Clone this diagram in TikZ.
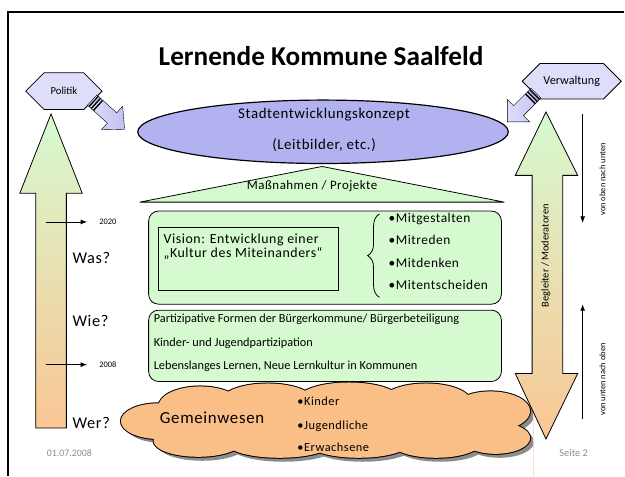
\documentclass[tikz,border=0pt]{standalone}
\usepackage{fontspec}
\setmainfont{Carlito}
\newfontfamily\weit{Carlito}[LetterSpace=4]
\usetikzlibrary{arrows.meta,positioning,shapes.geometric,shapes.symbols,decorations.pathreplacing}
\definecolor{gruen}{RGB}{214,250,208}
\definecolor{lila}{RGB}{178,178,240}
\definecolor{hlila}{RGB}{222,222,250}
\definecolor{wolke}{RGB}{250,190,135}
\definecolor{pfirsich}{RGB}{250,198,148}
\tikzset{every picture/.style={
  >=Latex                       % Filled arrow tips.
  }
}
% Puffs of the cloud: centre x/centre y/x radius/y radius.
\newcommand\wolkenpuffs{160/425/38/18, 202/410/42/20, 200/445/45/16,
  270/404/46/17, 282/448/52/14, 352/402/50/16, 362/448/50/14,
  430/405/45/18, 440/447/45/15, 495/415/40/20, 500/442/35/16,
  328/425/180/22}

\begin{document}
\begin{tikzpicture}[x=1pt,y=-1pt,
    hexa/.style={               % Hexagons for the actors.
      signal,
      signal to=west and east,
      signal pointer angle=90,
      draw,
      thick,
      fill=hlila,
      minimum height=37pt,
      inner sep=0pt
    },
    box/.style={                % Rounded green panels.
      draw,
      thick,
      rounded corners=10pt,
      fill=gruen
    },
    txt/.style={                % Body text.
      font=\weit\fontsize{13}{15}\selectfont,
      inner sep=0pt,
      text height=0.7em,
      text depth=0.2em
    },
    klein/.style={              % Small labels.
      font=\fontsize{8.5}{10}\selectfont,
      inner sep=0pt
    },
    pfeil/.style={              % Big shaded arrows.
      draw,
      thick,
      top color=gruen,
      bottom color=pfirsich
    },
    blockpfeil/.style={         % Arrows out of the hexagons.
      draw,
      left color=hlila,
      right color=lila!80
    }]

    % Frame of the slide.
    \draw[line width=1.5pt] (8,480) -- (8,12) -- (630,12);
    \useasboundingbox (0,0) rectangle (625,473);

    % Title.
    \node[font=\fontsize{27.5}{30}\selectfont\bfseries] (titel) at (324,57)
      {Lernende Kommune Saalfeld};

    % Timeline arrow on the left.
    \path[pfeil] (36,432) -- (36,195) -- (20,195) -- (51.5,115) -- (83,195)
      -- (67,195) -- (67,432) -- cycle;
    \coordinate (s2020) at (46,224);
    \coordinate (e2020) at (88,224);
    \draw[->,thick] (s2020) -- (e2020);
    \node[klein,right=12pt of e2020] (j2020) {2020};
    \coordinate (s2008) at (46,368);
    \coordinate (e2008) at (88,368);
    \draw[->,thick] (s2008) -- (e2008);
    \node[klein,right=12pt of e2008] (j2008) {2008};
    \node[txt,font=\weit\fontsize{16.5}{18}\selectfont,anchor=west] (was) at (73,263) {Was?};
    \node[txt,font=\weit\fontsize{16.5}{18}\selectfont,anchor=west] (wie) at (73,327) {Wie?};
    \node[txt,font=\weit\fontsize{16.5}{18}\selectfont,anchor=west] (wer) at (73,430) {Wer?};

    % Actors and their arrows.
    \node[hexa,minimum width=77pt,font=\fontsize{10.8}{12}\selectfont] (politik) at (64.5,92) {Politik};
    \node[hexa,minimum width=100pt,minimum height=36pt,font=\fontsize{12.3}{13}\selectfont] (verwaltung) at (577,82) {Verwaltung};
    \begin{scope}[shift={(93,101)},rotate=-42]
      \path[blockpfeil] (0,-7) -- (27,-7) -- (27,-16) -- (44,0) -- (27,16)
        -- (27,7) -- (0,7) -- cycle;
      \foreach \s in {2,5,8}
        \draw[line width=1.4pt] (\s,-7) -- (\s,7);
    \end{scope}
    \begin{scope}[shift={(541,94)},rotate=-135]
      \path[blockpfeil] (0,-7) -- (25,-7) -- (25,-16) -- (41,0) -- (25,16)
        -- (25,7) -- (0,7) -- cycle;
      \foreach \s in {2,5,8}
        \draw[line width=1.4pt] (\s,-7) -- (\s,7);
    \end{scope}

    % The concept and the roof.
    \node[ellipse,draw,very thick,fill=lila,minimum width=374pt,
      minimum height=64pt] (konzept) at (326,133) {};
    \node[txt,font=\weit\fontsize{15}{17}\selectfont] (stadt) at (327,117) {Stadtentwicklungskonzept};
    \node[txt,font=\weit\fontsize{15}{17}\selectfont] (leit) at (327,148) {(Leitbilder, etc.)};
    \draw[thick,fill=gruen] (141,204) -- (325,168) -- (509,204) -- cycle;
    \node[txt] (massn) at (315,189) {Maßnahmen / Projekte};

    % Vision panel.
    \node[box,minimum width=356pt,minimum height=94pt] (vision) at (328,260) {};
    \node[draw,thick,fill=gruen,minimum width=181pt,minimum height=64pt] (kultur) at (250.5,261) {};
    \node[txt,font=\weit\fontsize{14}{15}\selectfont,anchor=west] (vis1) at (165,243) {Vision: Entwicklung einer};
    \node[txt,font=\weit\fontsize{14}{15}\selectfont,anchor=west] (vis2) at (165,257) {„Kultur des Miteinanders“};
    \draw[thick,decorate,decoration={brace,amplitude=12pt}] (383,300) -- (383,216);
    \node[txt,font=\weit\fontsize{13.5}{15}\selectfont,anchor=west] (mit1) at (392,222) {•Mitgestalten};
    \node[txt,font=\weit\fontsize{13.5}{15}\selectfont,anchor=west] (mit2) at (392,244.5) {•Mitreden};
    \node[txt,font=\weit\fontsize{13.5}{15}\selectfont,anchor=west] (mit3) at (392,267) {•Mitdenken};
    \node[txt,font=\weit\fontsize{13.5}{15}\selectfont,anchor=west] (mit4) at (392,289.5) {•Mitentscheiden};

    % Participation panel.
    \node[box,minimum width=356pt,minimum height=72pt] (formen) at (328,349) {};
    \node[txt,font=\fontsize{12.4}{14}\selectfont,anchor=west] (form1) at (155,323) {Partizipative Formen der Bürgerkommune/ Bürgerbeteiligung};
    \node[txt,font=\fontsize{12.4}{14}\selectfont,anchor=west] (form2) at (155,347) {Kinder- und Jugendpartizipation};
    \node[txt,font=\fontsize{12.4}{14}\selectfont,anchor=west] (form3) at (155,370) {Lebenslanges Lernen, Neue Lernkultur in Kommunen};

    % Community cloud: shadow, outlined puffs, then the puffs filled again.
    \coordinate (gemein) at (328,425);
    \foreach \cx/\cy/\rx/\ry in \wolkenpuffs
      \fill[black!45,shift={(4,4)}] (\cx,\cy) ellipse [x radius=\rx pt,y radius=\ry pt];
    \foreach \cx/\cy/\rx/\ry in \wolkenpuffs
      \draw[line width=2pt,fill=wolke] (\cx,\cy) ellipse [x radius=\rx pt,y radius=\ry pt];
    \foreach \cx/\cy/\rx/\ry in \wolkenpuffs
      \fill[wolke] (\cx,\cy) ellipse [x radius=\rx pt,y radius=\ry pt];
    \node[txt,font=\weit\fontsize{17}{19}\selectfont] (gemeinwesen) at (214,425) {Gemeinwesen};
    \node[txt,font=\weit\fontsize{12.5}{14}\selectfont,anchor=west] (kinder) at (300,407) {•Kinder};
    \node[txt,font=\weit\fontsize{12.5}{14}\selectfont,anchor=west] (jugend) at (300,431) {•Jugendliche};
    \node[txt,font=\weit\fontsize{12.5}{14}\selectfont,anchor=west] (erw) at (300,453) {•Erwachsene};
    \fill[white] (538,390) rectangle (630,480);
    \draw[red!15] (538,390) -- (538,480);

    % Double arrow on the right.
    \path[pfeil] (537,177) -- (520,177) -- (551,113) -- (583,177) -- (568,177)
      -- (568,377) -- (583,377) -- (551,443) -- (520,377) -- (537,377) -- cycle;
    \node[klein,font=\fontsize{10.5}{12}\selectfont,rotate=90] (begleiter) at (551,258)
      {Begleiter / Moderatoren};
    \coordinate (obenA) at (588,115);
    \coordinate (obenB) at (588,225);
    \draw[->,thick] (obenA) -- (obenB);
    \node[klein,rotate=90] (vonoben) at (608,181) {von oben nach unten};
    \coordinate (untenA) at (588,423);
    \coordinate (untenB) at (588,307);
    \draw[->,thick] (untenA) -- (untenB);
    \node[klein,rotate=90] (vonunten) at (608,383) {von unten nach oben};

    % Footer.
    \node[klein,font=\fontsize{10}{11}\selectfont,text=black!45] (datum) at (70,457) {01.07.2008};
    \node[klein,font=\fontsize{10.5}{11}\selectfont,text=black!45] (seite) at (579,457) {Seite 2};
  \end{tikzpicture}
\end{document}
